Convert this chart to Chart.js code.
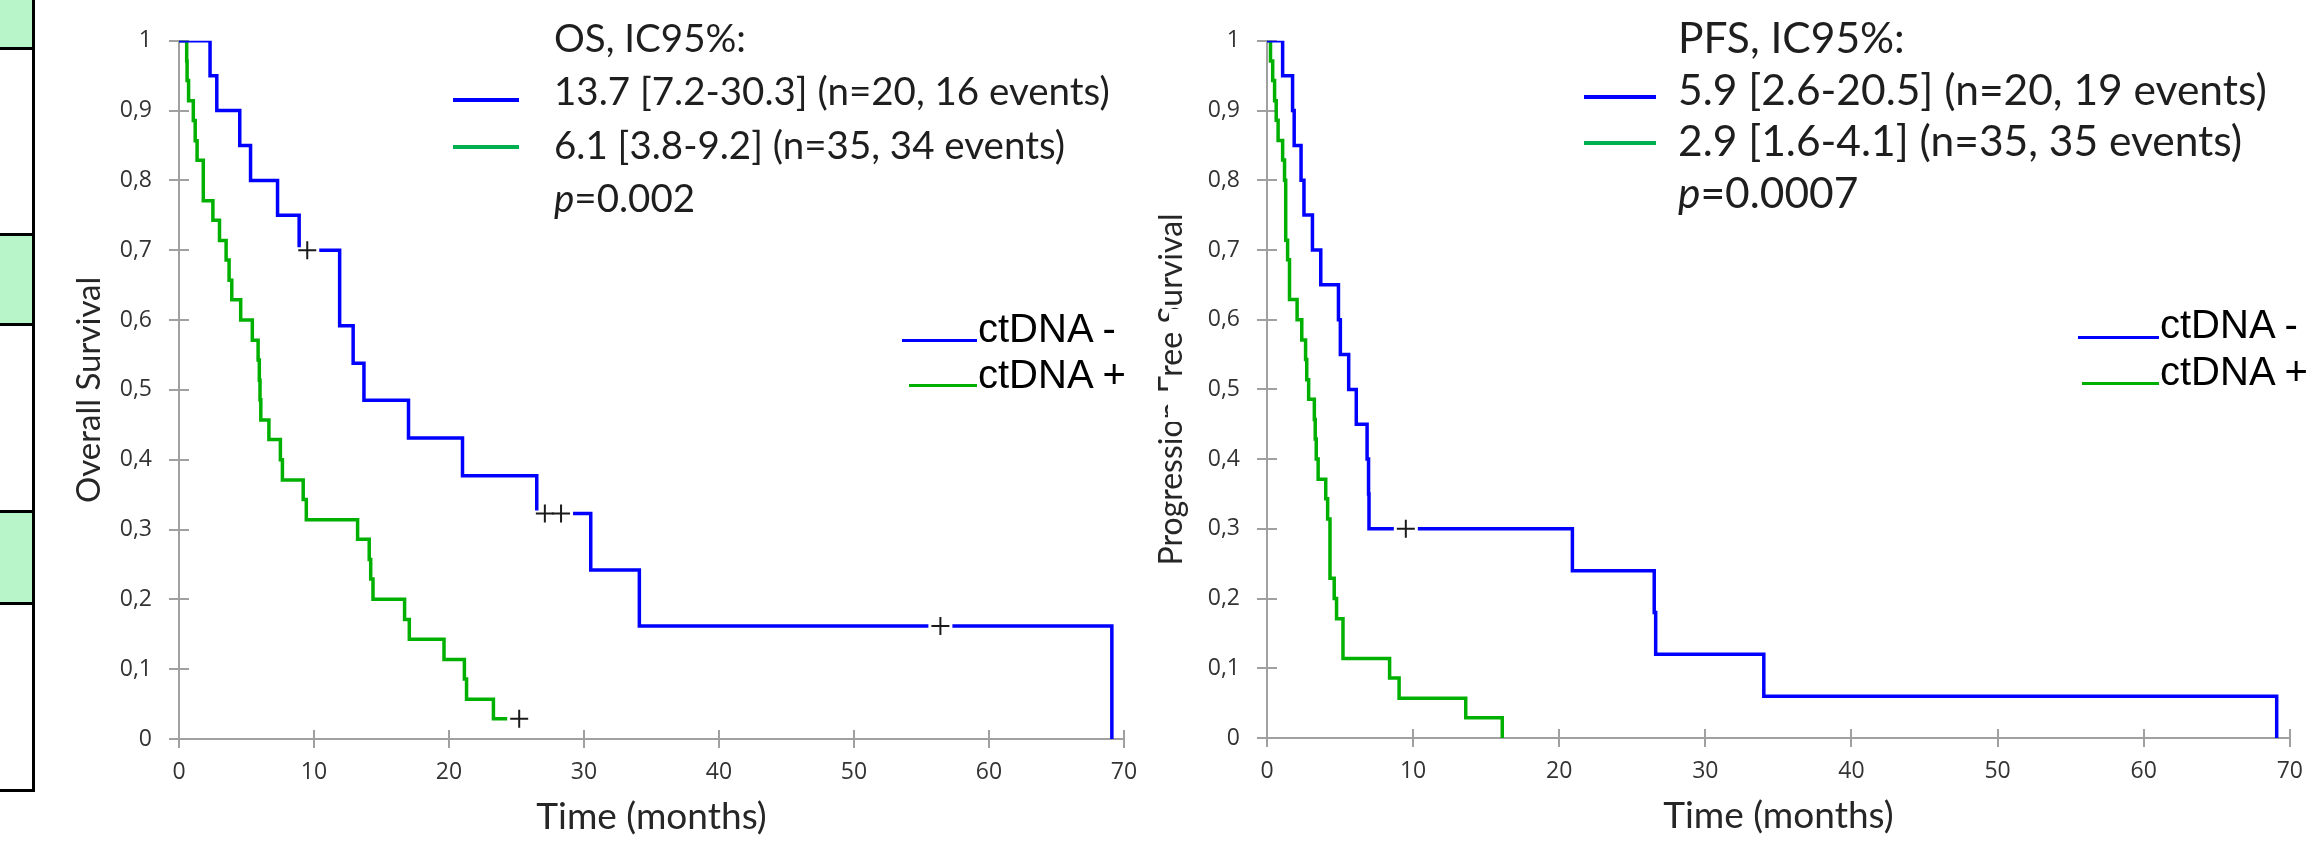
<!DOCTYPE html>
<html>
<head>
<meta charset="utf-8">
<script src="https://cdn.jsdelivr.net/npm/chart.js@4.4.1/dist/chart.umd.min.js"></script>
<style>
  body { margin:0; width:2323px; height:852px; background:#fff; position:relative; overflow:hidden; }
  canvas { position:absolute; top:0; }
  #osChart { left:0; }
  #pfsChart { left:1150px; }
  .stats { position:absolute; font-family:Lato, sans-serif; color:#1e1e1e; white-space:nowrap; }
  .key { position:absolute; height:4px; }
  .ct { position:absolute; font-family:"Liberation Sans", Arial, sans-serif; font-size:40px; line-height:40px; color:#000; white-space:nowrap; }
  .ctline { position:absolute; height:3px; }
  .cell { position:absolute; left:0; width:32px; border-right:3px solid #000; border-bottom:3px solid #000; }
  .mask { position:absolute; background:#fff; }
</style>
</head>
<body>
<!-- cut-off table on the far left -->
<div class="cell" style="top:-3px;height:50px;background:#b8f5c8"></div>
<div class="cell" style="top:50px;height:183px"></div>
<div class="cell" style="top:236px;height:87px;background:#b8f5c8"></div>
<div class="cell" style="top:326px;height:184px"></div>
<div class="cell" style="top:513px;height:89px;background:#b8f5c8"></div>
<div class="cell" style="top:605px;height:184px"></div>

<canvas id="osChart" width="1160" height="852"></canvas>
<canvas id="pfsChart" width="1173" height="852"></canvas>

<!-- the original has part of this axis title hidden -->
<div class="mask" style="left:1168px;top:376px;width:30px;height:46px"></div>
<div class="mask" style="left:1169px;top:309px;width:28px;height:17px"></div>

<div class="stats" id="osStats" style="left:554px;top:11px;font-size:38.5px;line-height:53.3px"></div>
<div class="stats" id="pfsStats" style="left:1678px;top:11px;font-size:42.5px;line-height:51.5px"></div>
<div class="key" style="left:453px;top:98px;width:66px;background:#0000ff"></div>
<div class="key" style="left:453px;top:145px;width:66px;background:#00b050"></div>
<div class="key" style="left:1584px;top:95px;width:72px;background:#0000ff"></div>
<div class="key" style="left:1584px;top:141px;width:72px;background:#00b050"></div>

<div class="ctline" style="left:902px;top:339px;width:75px;background:#0000ff"></div>
<div class="ctline" style="left:909px;top:384px;width:68px;background:#00b000"></div>
<div class="ct" id="osNegLbl" style="left:978px;top:308px"></div>
<div class="ct" id="osPosLbl" style="left:978px;top:354px"></div>
<div class="ctline" style="left:2078px;top:336px;width:81px;background:#0000ff"></div>
<div class="ctline" style="left:2082px;top:382px;width:77px;background:#00b000"></div>
<div class="ct" id="pfsNegLbl" style="left:2160px;top:304px"></div>
<div class="ct" id="pfsPosLbl" style="left:2160px;top:351px"></div>

<script>
// groups
var groups = ['ctDNA -', 'ctDNA +'];
var blue = '#0000ff', green = '#00b000', axisGray = '#a0a0a0';

// tick labels
var yTickLabels = ['0', '0,1', '0,2', '0,3', '0,4', '0,5', '0,6', '0,7', '0,8', '0,9', '1'];
var xTickLabels = ['0', '10', '20', '30', '40', '50', '60', '70'];

// overall survival, ctDNA -  (time in months, survival after the step)
var osNegTime = [0, 2.3, 2.8, 4.5, 5.3, 7.3, 8.9, 11.9, 12.9, 13.7, 17.0, 21.0, 26.5, 30.5, 34.1, 69.1];
var osNegSurv = [1, 0.95, 0.90, 0.85, 0.80, 0.75, 0.70, 0.592, 0.538, 0.485, 0.431, 0.377, 0.323, 0.242, 0.162, 0];
var osNegCensT = [9.5, 27.1, 28.3, 56.4];
var osNegCensS = [0.70, 0.323, 0.323, 0.162];

// overall survival, ctDNA +
var osPosTime = [0, 0.57, 0.6, 0.71, 1.06, 1.2, 1.34, 1.8, 1.8, 2.51, 3.0, 3.49, 3.71, 3.91, 4.57, 5.43, 5.86, 5.95, 6.0, 6.06,
                 6.66, 7.51, 7.66, 9.2, 9.43, 13.23, 14.09, 14.2, 14.37, 16.71, 17.06, 19.63, 21.14, 21.3, 23.29, 25.2];
var osPosSurv = [1, 0.971, 0.943, 0.914, 0.886, 0.857, 0.829, 0.800, 0.771, 0.743, 0.714, 0.686, 0.657, 0.629, 0.600, 0.571,
                 0.543, 0.514, 0.486, 0.457, 0.429, 0.400, 0.371, 0.343, 0.314, 0.286, 0.257, 0.229, 0.200, 0.171, 0.143,
                 0.114, 0.086, 0.057, 0.029, 0.029];
var osPosCensT = [25.2];
var osPosCensS = [0.029];

// progression free survival, ctDNA -
var pfsNegTime = [0, 1.07, 1.75, 1.86, 2.33, 2.53, 3.11, 3.68, 4.89, 5.02, 5.59, 6.11, 6.85, 6.95, 6.98, 20.9, 26.5, 26.6, 34.0, 69.1];
var pfsNegSurv = [1, 0.95, 0.90, 0.85, 0.80, 0.75, 0.70, 0.65, 0.60, 0.55, 0.50, 0.45, 0.40, 0.35, 0.30, 0.24, 0.18, 0.12, 0.06, 0];
var pfsNegCensT = [9.5];
var pfsNegCensS = [0.30];

// progression free survival, ctDNA +
var pfsPosTime = [0, 0.24, 0.39, 0.52, 0.63, 0.76, 1.07, 1.2, 1.28, 1.28, 1.28, 1.41, 1.54, 1.54, 2.06, 2.38, 2.64, 2.72, 2.85,
                  3.24, 3.3, 3.37, 3.5, 4.02, 4.15, 4.31, 4.31, 4.31, 4.6, 4.76, 5.2, 5.2, 8.39, 9.04, 13.6, 16.1];
var pfsPosSurv = [1, 0.971, 0.943, 0.914, 0.886, 0.857, 0.829, 0.800, 0.771, 0.743, 0.714, 0.686, 0.657, 0.629, 0.600, 0.571,
                  0.543, 0.514, 0.486, 0.457, 0.429, 0.400, 0.371, 0.343, 0.314, 0.286, 0.257, 0.229, 0.200, 0.171, 0.143,
                  0.114, 0.086, 0.057, 0.029, 0];
var pfsPosCensT = [];
var pfsPosCensS = [];

// median summaries
var osStats = ['OS, IC95%:', '13.7 [7.2-30.3] (n=20, 16 events)', '6.1 [3.8-9.2] (n=35, 34 events)', '<i>p</i>=0.002'];
var pfsStats = ['PFS, IC95%:', '5.9 [2.6-20.5] (n=20, 19 events)', '2.9 [1.6-4.1] (n=35, 35 events)', '<i>p</i>=0.0007'];

document.getElementById('osStats').innerHTML = osStats.join('<br>');
document.getElementById('pfsStats').innerHTML = pfsStats.join('<br>');
document.getElementById('osNegLbl').textContent = groups[0];
document.getElementById('osPosLbl').textContent = groups[1];
document.getElementById('pfsNegLbl').textContent = groups[0];
document.getElementById('pfsPosLbl').textContent = groups[1];

function pts(xs, ys) {
  return xs.map(function(x, i){ return {x: x, y: ys[i]}; });
}

// ticks that cross the axis lines, like the original
var crossTicks = {
  id: 'crossTicks',
  beforeDatasetsDraw: function(chart) {
    var ctx = chart.ctx, x = chart.scales.x, y = chart.scales.y;
    ctx.save();
    ctx.strokeStyle = axisGray;
    ctx.lineWidth = 2;
    ctx.beginPath();
    x.ticks.forEach(function(t){
      var px = Math.round(x.getPixelForValue(t.value));
      ctx.moveTo(px, y.bottom - 9); ctx.lineTo(px, y.bottom + 9);
    });
    y.ticks.forEach(function(t){
      var py = Math.round(y.getPixelForValue(t.value));
      ctx.moveTo(x.left - 10, py); ctx.lineTo(x.left + 10, py);
    });
    ctx.stroke();
    ctx.restore();
  }
};

function curve(xs, ys, color) {
  return { data: pts(xs, ys), showLine: true, stepped: 'before', borderColor: color, borderWidth: 3.5,
           pointRadius: 0, fill: false, order: 2 };
}
function marks(xs, ys) {
  return { data: pts(xs, ys), showLine: false, pointStyle: 'cross', pointRadius: 9,
           pointBorderColor: '#1a1a1a', pointBorderWidth: 2, order: 0 };
}
function gaps(xs, ys) {
  return { data: pts(xs, ys), showLine: false, pointStyle: 'line', pointRadius: 12,
           pointBorderColor: '#ffffff', pointBorderWidth: 6, order: 1 };
}

function kmChart(id, yTitle, titleSize, sets, pad, yWidth) {
  return new Chart(document.getElementById(id), {
    type: 'scatter',
    data: { datasets: sets },
    plugins: [crossTicks],
    options: {
      responsive: false,
      animation: false,
      events: [],
      layout: { padding: pad },
      plugins: { legend: { display: false }, tooltip: { enabled: false } },
      scales: {
        x: {
          type: 'linear', min: 0, max: 70,
          afterFit: function(s){ s.height = 100; },
          ticks: { stepSize: 10, padding: 20, color: '#333333', font: { family: 'Open Sans', size: 23 },
                   callback: function(v, i){ return xTickLabels[i]; } },
          grid: { display: true, drawOnChartArea: false, drawTicks: false },
          border: { color: axisGray, width: 2 },
          title: { display: true, text: 'Time (months)', color: '#262626', padding: 0,
                   font: { family: 'Lato', size: 37 } }
        },
        y: {
          type: 'linear', min: 0, max: 1,
          afterFit: function(s){ s.width = yWidth; },
          ticks: { stepSize: 0.1, padding: 27, color: '#333333', font: { family: 'Open Sans', size: 23 },
                   callback: function(v, i){ return yTickLabels[i]; } },
          grid: { display: true, drawOnChartArea: false, drawTicks: false },
          border: { color: axisGray, width: 2 },
          title: { display: true, text: yTitle, color: '#262626', padding: 0,
                   font: { family: 'Lato', size: titleSize } }
        }
      }
    }
  });
}

kmChart('osChart', 'Overall Survival', 33, [
  marks(osNegCensT.concat(osPosCensT), osNegCensS.concat(osPosCensS)),
  gaps(osNegCensT.concat(osPosCensT), osNegCensS.concat(osPosCensS)),
  curve(osNegTime, osNegSurv, blue),
  curve(osPosTime, osPosSurv, green)
], { left: 70, top: 32, right: 36, bottom: 13 }, 109);

kmChart('pfsChart', 'Progression Free Survival', 32, [
  marks(pfsNegCensT.concat(pfsPosCensT), pfsNegCensS.concat(pfsPosCensS)),
  gaps(pfsNegCensT.concat(pfsPosCensT), pfsNegCensS.concat(pfsPosCensS)),
  curve(pfsNegTime, pfsNegSurv, blue),
  curve(pfsPosTime, pfsPosSurv, green)
], { left: 2, top: 37, right: 28, bottom: 14 }, 115);
</script>
</body>
</html>
